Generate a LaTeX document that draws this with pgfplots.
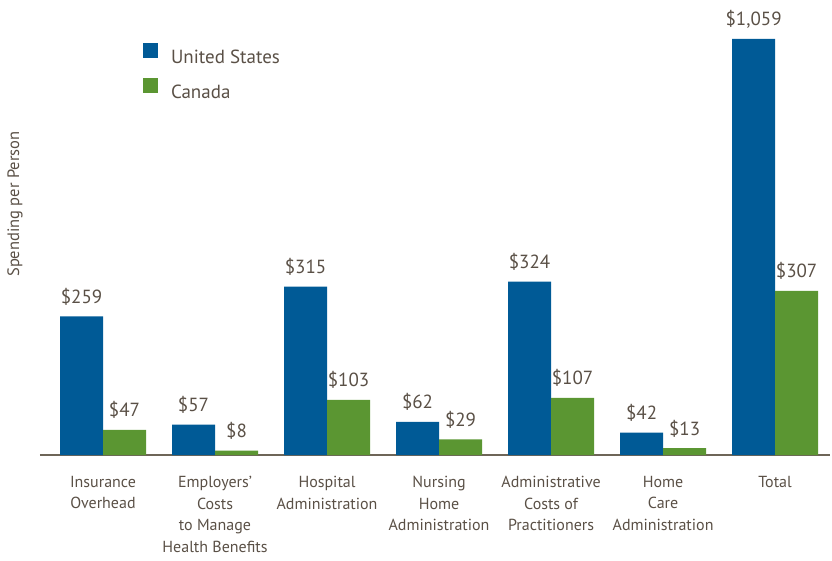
\documentclass[border=0pt]{standalone}
\usepackage{fontspec}
\setmainfont{PT Sans}
\usepackage{pgfplots}
\usepackage{pgfplotstable}
\pgfplotsset{compat=1.18}
\definecolor{usBlue}{HTML}{005A96}
\definecolor{caGreen}{HTML}{5B9632}
\definecolor{txt}{HTML}{5A5046}
\definecolor{rule}{HTML}{6E6558}

% bar heights as drawn (the Total US bar is drawn shortened in the original)
\pgfplotstableread{
x y lab
0 259 {\$259}
1 57 {\$57}
2 315 {\$315}
3 62 {\$62}
4 324 {\$324}
5 42 {\$42}
6 778 {\$1,059}
}\us
\pgfplotstableread{
x y lab
0 47 {\$47}
1 8 {\$8}
2 103 {\$103}
3 29 {\$29}
4 107 {\$107}
5 13 {\$13}
6 307 {\$307}
}\ca

\begin{document}
\begin{tikzpicture}
\useasboundingbox (0,0) rectangle (832pt,-561pt);
\begin{axis}[
  at={(40pt,-455pt)}, anchor=south west,
  scale only axis, width=790pt, height=445pt,
  xmin=-0.5625, xmax=6.49, ymin=0, ymax=832,
  ybar=0pt, bar width=43pt,
  axis line style={draw=none},
  ytick=\empty,
  xtick={0,...,6},
  xticklabels={
    {Insurance\\Overhead},
    {Employers'\\Costs\\to Manage\\Health Benefits},
    {Hospital\\Administration},
    {Nursing\\Home\\Administration},
    {Administrative\\Costs of\\Practitioners},
    {Home\\Care\\Administration},
    {Total}},
  major tick length=0pt,
  xticklabel style={align=center, font=\fontsize{16}{21.5}\selectfont,
    text=txt, anchor=north, inner sep=0pt, yshift=-21pt},
  ylabel={Spending per Person},
  ylabel style={at={(rel axis cs:-0.0316,0.564)}, anchor=center,
    font=\fontsize{16.5}{20}\selectfont, text=txt},
  nodes near coords, point meta=explicit symbolic,
  every node near coord/.append style={font=\fontsize{19}{22}\selectfont,
    text=txt, anchor=base, inner sep=0pt, yshift=13pt},
  clip=false,
  legend style={at={(0.1304,0.926)}, anchor=north west, draw=none, fill=none,
    inner sep=0pt, outer sep=0pt, row sep=15pt,
    font=\fontsize{19}{22}\selectfont, text=txt,
    nodes={inner sep=0pt, text height=14pt, text depth=0pt},
    /tikz/every odd column/.append style={column sep=13pt}},
  legend cell align=left,
  /pgfplots/legend image code/.code={\fill[#1] (0pt,-1.5pt) rectangle (15pt,13.5pt);},
]
\draw[rule, line width=1.5pt] (rel axis cs:0,0) -- (rel axis cs:1,0);
\addplot[fill=usBlue, draw=none] table[x=x, y=y, meta=lab] {\us};
\addlegendentry{United States}
\addplot[fill=caGreen, draw=none] table[x=x, y=y, meta=lab] {\ca};
\addlegendentry{Canada}
\end{axis}
\end{tikzpicture}
\end{document}
